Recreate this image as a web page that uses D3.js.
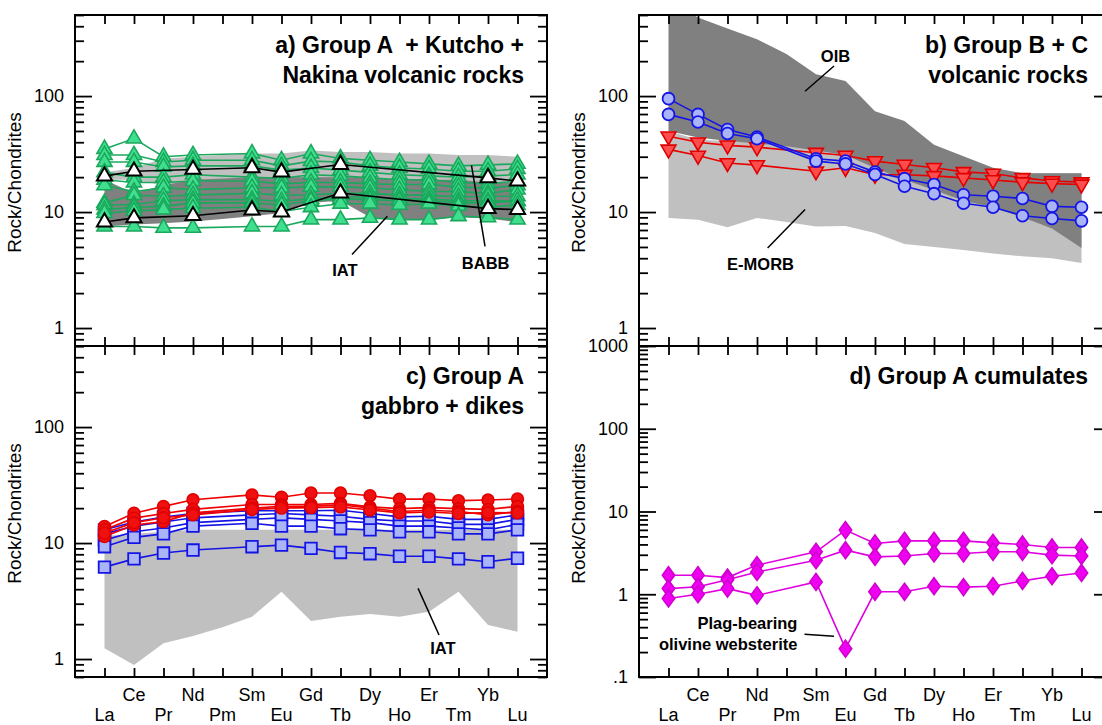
<!DOCTYPE html>
<html>
<head>
<meta charset="utf-8">
<script src="https://cdn.jsdelivr.net/npm/d3@7"></script>
<style>
  body { margin: 0; background: #fff; }
  svg { display: block; font-family: "Liberation Sans", Arial, sans-serif; }
</style>
</head>
<body>
<svg id="chart" width="1102" height="725"></svg>
<script>
// REE in chondrite-normalised order
const REE = ["La", "Ce", "Pr", "Nd", "Pm", "Sm", "Eu", "Gd", "Tb", "Dy", "Ho", "Er", "Tm", "Yb", "Lu"];

const ticksMajor = [1, 10, 100];
const ticksMinor = [0.7, 0.8, 0.9, 2, 3, 4, 5, 6, 7, 8, 9, 20, 30, 40, 50, 60, 70, 80, 90, 200, 300, 400, 500];
const ticksMajorD = [0.1, 1, 10, 100, 1000];
const ticksMinorD = [0.2, 0.3, 0.4, 0.5, 0.6, 0.7, 0.8, 0.9, 2, 3, 4, 5, 6, 7, 8, 9,
  20, 30, 40, 50, 60, 70, 80, 90, 200, 300, 400, 500, 600, 700, 800, 900];

// a) Group A + Kutcho + Nakina volcanic rocks
const aBABBUpper = [22, 24, 29, 30, 31, 32, 32, 34, 33, 33, 32, 32, 31, 31, 30];
const aBABBLower = [19, 19, 17, 15, 14, 13, 12.5, 13, 12, 12, 12, 12, 11, 10, 10];
const aIATUpper = [19, 14.5, 17, 19, 19.5, 20, 20, 20, 20, 20, 19, 19, 19, 18, 18];
const aIATLower = [7.5, 7.8, 8, 8.3, 8.7, 9.2, 9.8, 12, 12.5, 9, 8.6, 8.6, 9, 8.8, 8.2];
const aGreen = [
  [35, 43, 30, 31, null, 32, 28, 32, 29, 28, 27, 26, 25, 25.5, 26],
  [31, 31, 27, 28, null, 28, 25, 27.5, 27, 25, 24, 23.5, 22.5, 22.5, 23.5],
  [27, 27, 24.5, 25, null, 25, 23, 24, 23, 22, 21, 20.5, 20, 20.5, 21],
  [22, 20, 20, 21, null, 20, 19.5, 21, 20.5, 19.7, 19, 19, 18, 17.5, 18.5],
  [19, 18, 18, 18.5, null, 18.5, 17.5, 18, 18, 17.5, 17.3, 17.3, 16.5, 16, 17],
  [17, 15, 16.2, 15.6, null, 16.2, 16.2, 16.5, 16.5, 16.2, 15.5, 15.1, 15, 14.5, 15.6],
  [12, 14, 13.7, 14, null, 14.5, 14, 14.1, 14.5, 14.5, 14, 14, 13.5, 13.7, 13.7],
  [11.5, 11.6, 12.5, 12.8, null, 12.8, 12.4, 13, 13.5, 13.5, 13, 13, 12.5, 12.5, 12.4],
  [10.5, 11, 11.2, 12, null, 12, 11.5, 12.5, 13, 12.8, 12.5, 12.5, 12, 12, 12.5],
  [9.8, 10.2, 10.5, 10.8, null, 11, 10.1, 11, 11.8, 11.8, 11.5, 11.8, 11.3, 11, 11.5],
  [7.5, 7.5, 7.3, 7.3, null, 7.5, 7.5, 8.6, 8.6, 8.9, 8.6, 8.6, 9.2, 9, 8.6]
];
const aOpen = [
  [20.4, 22.5, null, 23.3, null, 24.1, 22.1, null, 25.7, null, null, null, null, 19.7, 18.5],
  [8.2, 8.9, null, 9.3, null, 10.4, 10.0, null, 14.6, null, null, null, null, 10.7, 10.5]
];

// b) Group B + C volcanic rocks
const bEMORBUpper = [50, 42, 41, 40, 38, 36, 33, 28, 25, 24, 23, 22, 21.5, 21.5, 21.5];
const bEMORBLower = [8.9, 8.6, 7.4, 8.9, 8.2, 7.5, 7.6, 6.6, 5.3, 5.0, 4.7, 4.4, 4.15, 4.0, 3.64];
const bOIBUpper = [700, 475, 382, 309, 230, 154, 135, 74, 61, 38, 30.3, 24.1, 21.6, 21.6, 21.6];
const bOIBLower = [50, 44, 41, 39, 37, 34, 31, 24, 19, 15.5, 12.5, 11, 9, 7.2, 4.9];
const bRed = [
  [45, 40, 37.6, 36.3, null, 32.5, 30.7, 27.5, 25.7, 24.1, 22.2, 21.5, 19.7, 18.5, 18.1],
  [34.7, 30.7, 26.5, 25.4, null, 22.5, 24.1, 21, 21, 20.5, 19.7, 18.9, 18.1, 17.6, 17.3]
];
const bBlue = [
  [95, 69.5, 51.5, 44.3, null, 28.8, 27.5, 22.1, 19.4, 17.3, 14.1, 13.7, 13.1, 11.2, 11],
  [69.5, 59.7, 47.6, 42.9, null, 27.5, 26, 21.1, 16.7, 14.4, 11.9, 11, 9.3, 8.8, 8.4]
];

// c) Group A gabbro + dikes
const cIATUpper = [11.5, 12, 12.5, 13, 13, 13, 13, 13, 13, 13, 13, 13, 13, 13, 13];
const cIATLower = [1.24, 0.89, 1.37, 1.58, 1.88, 2.32, 3.81, 2.13, 2.32, 2.45, 2.32, 2.56, 3.81, 1.97, 1.72];
const cBlue = [
  [13, 15.2, 16.8, 18, null, 19, 19, 19, 19.2, 18, 16.8, 17, 16, 16, 17.5],
  [12, 14, 15.2, 16.5, null, 17.5, 18, 17.5, 17, 16, 15.5, 15.5, 14.5, 14.5, 16],
  [10.6, 12.5, 13.5, 15, null, 16, 16.5, 16, 15.5, 15, 14, 14, 13.5, 13, 14.5],
  [9.3, 11.2, 12, 14, null, 14.8, 14, 14, 13.3, 13, 12.5, 12.5, 12, 12, 13],
  [6.2, 7.3, 8.2, 8.7, null, 9.3, 9.6, 9.0, 8.3, 8.1, 7.7, 7.7, 7.3, 6.9, 7.4]
];
const cRed = [
  [13.9, 18.1, 20.7, 23.6, null, 26, 24.8, 27, 27, 25.6, 23.9, 24, 23.2, 23.5, 24],
  [13, 16.4, 18, 19.5, null, 21.5, 21.5, 21.5, 22, 20.5, 19.8, 20.2, 19.8, 19.5, 20.7],
  [11.4, 14.3, 15.3, 18.2, null, 20, 20.7, 20.7, 21.4, 20, 18.7, 19.2, 18.7, 17.5, 18.7],
  [12.2, 15, 16.5, 17.5, null, 19.5, 20, 20.2, 20.5, 19.3, 18.2, 18.5, 18, 18.3, 18.2]
];

// d) Group A cumulates
const dCumulates = [
  [1.7, 1.7, 1.59, 2.25, null, 3.26, 5.96, 4.11, 4.42, 4.42, 4.42, 4.18, 4.0, 3.68, 3.68],
  [1.17, 1.23, 1.5, 1.86, null, 2.58, 3.41, 2.83, 2.9, 3.11, 3.11, 3.26, 3.26, 2.97, 2.9],
  [0.89, 1.0, 1.17, 0.97, null, 1.41, 0.22, 1.07, 1.07, 1.25, 1.22, 1.25, 1.45, 1.65, 1.81]
];

const svg = d3.select("#chart");
const W = 472, H = 331;
const LIGHT = "#c0c0c0", DARK = "#808080";

const triShape = d3.symbol(d3.symbolTriangle, 100)();
const triDownShape = d3.symbol(d3.symbolTriangle, 95)();
const circleShape = d3.symbol(d3.symbolCircle, 110)();
const squareShape = d3.symbol(d3.symbolSquare, 135)();
const diamondShape = "M0,-8.5L6.2,0L0,8.5L-6.2,0Z";

function makePanel(id, left, top, domain) {
  const x = d3.scalePoint().domain(REE).range([left, left + W]).padding(1);
  const y = d3.scaleLog().domain(domain).range([top + H, top]);
  const xi = i => x(REE[0]) + i * x.step();
  svg.append("clipPath").attr("id", "clip-" + id)
    .append("rect").attr("x", left).attr("y", top).attr("width", W).attr("height", H);
  const g = svg.append("g").attr("clip-path", `url(#clip-${id})`);
  return { id, left, top, right: left + W, bottom: top + H, x, y, xi, g };
}

function drawField(p, upper, lower, color) {
  const area = d3.area()
    .x((d, i) => p.x(REE[i]))
    .y0(d => p.y(d[1]))
    .y1(d => p.y(d[0]));
  p.g.append("path").datum(d3.zip(upper, lower)).attr("d", area).attr("fill", color);
}

function drawSeries(p, rows, st) {
  rows.forEach(vals => {
    const pts = REE.map((el, i) => ({ el, v: vals[i] })).filter(d => d.v != null);
    p.g.append("path").datum(pts)
      .attr("d", d3.line().x(d => p.x(d.el)).y(d => p.y(d.v)))
      .attr("fill", "none")
      .attr("stroke", st.line)
      .attr("stroke-width", st.lw || 1.6);
    p.g.selectAll(null).data(pts).join("path")
      .attr("transform", d => `translate(${p.x(d.el)},${p.y(d.v)})` + (st.rotate ? " rotate(180)" : ""))
      .attr("d", st.shape)
      .attr("fill", st.fill)
      .attr("stroke", st.stroke)
      .attr("stroke-width", st.sw || 1.6);
  });
}

function styleAxis(sel) {
  sel.select(".domain").remove();
  sel.selectAll("line").attr("stroke", "#000").attr("stroke-width", 1.8);
  sel.selectAll("text").attr("font-size", 18).attr("fill", "#000")
    .attr("font-family", "'Liberation Sans', Arial, sans-serif");
}

function drawFrame(p, yMajor, yMinor, fmt) {
  const a = svg.append("g");
  a.append("g").attr("transform", `translate(0,${p.bottom})`)
    .call(d3.axisBottom(p.x).tickSize(-9).tickFormat("")).call(styleAxis);
  a.append("g").attr("transform", `translate(0,${p.top})`)
    .call(d3.axisTop(p.x).tickSize(-9).tickFormat("")).call(styleAxis);
  a.append("g").attr("transform", `translate(${p.left},0)`)
    .call(d3.axisLeft(p.y).tickValues(yMajor).tickSize(-17).tickPadding(11).tickFormat(fmt)).call(styleAxis);
  a.append("g").attr("transform", `translate(${p.left},0)`)
    .call(d3.axisLeft(p.y).tickValues(yMinor).tickSize(-9).tickFormat("")).call(styleAxis);
  a.append("g").attr("transform", `translate(${p.right},0)`)
    .call(d3.axisRight(p.y).tickValues(yMajor).tickSize(-17).tickFormat("")).call(styleAxis);
  a.append("g").attr("transform", `translate(${p.right},0)`)
    .call(d3.axisRight(p.y).tickValues(yMinor).tickSize(-9).tickFormat("")).call(styleAxis);
  a.append("rect")
    .attr("x", p.left).attr("y", p.top).attr("width", W).attr("height", H)
    .attr("fill", "none").attr("stroke", "#000").attr("stroke-width", 2);

  svg.append("text")
    .attr("transform", `translate(${p.left - 54},${p.top + H / 2 + 2}) rotate(-90)`)
    .attr("text-anchor", "middle")
    .attr("font-size", 19)
    .text("Rock/Chondrites");
}

function drawTitle(p, lines) {
  lines.forEach((t, i) => {
    svg.append("text")
      .attr("x", p.right - 23)
      .attr("y", p.top + 38 + i * 30)
      .attr("text-anchor", "end")
      .attr("font-size", 23)
      .attr("font-weight", "bold")
      .style("white-space", "pre")
      .text(t);
  });
}

function drawXLabels(p) {
  REE.forEach((el, i) => {
    svg.append("text")
      .attr("x", p.x(el))
      .attr("y", p.bottom + (i % 2 ? 24 : 44))
      .attr("text-anchor", "middle")
      .attr("font-size", 18)
      .text(el);
  });
}

function note(p, i, v, text, anchor) {
  svg.append("text")
    .attr("x", p.xi(i)).attr("y", p.y(v))
    .attr("text-anchor", anchor || "middle")
    .attr("font-size", 16.5)
    .attr("font-weight", "bold")
    .text(text);
}

function leader(p, from, to) {
  svg.append("line")
    .attr("x1", p.xi(from[0])).attr("y1", p.y(from[1]))
    .attr("x2", p.xi(to[0])).attr("y2", p.y(to[1]))
    .attr("stroke", "#000").attr("stroke-width", 1.5);
}

const fmtMain = d => String(d);
const fmtD = d => (d === 0.1 ? ".1" : String(d));

// panel a
const pa = makePanel("a", 75, 15, [0.7, 500]);
drawField(pa, aBABBUpper, aBABBLower, LIGHT);
drawField(pa, aIATUpper, aIATLower, DARK);
drawSeries(pa, aGreen, { line: "#1aa85c", fill: "#3fdf8f", stroke: "#1aa85c", shape: triShape });
drawSeries(pa, aOpen, { line: "#000", fill: "#fff", stroke: "#000", shape: triShape, sw: 2 });
drawFrame(pa, ticksMajor, ticksMinor, fmtMain);
drawTitle(pa, ["a) Group A  + Kutcho +", "Nakina volcanic rocks"]);
leader(pa, [8.39, 4.3], [9.59, 9.2]);
note(pa, 8.15, 2.83, "IAT");
leader(pa, [12.9, 5.07], [12.44, 25.2]);
note(pa, 12.92, 3.25, "BABB");

// panel b
const pb = makePanel("b", 639, 15, [0.7, 500]);
drawField(pb, bEMORBUpper, bEMORBLower, LIGHT);
drawField(pb, bOIBUpper, bOIBLower, DARK);
drawSeries(pb, bRed, { line: "#e80000", fill: "#ff4d4d", stroke: "#e00000", shape: triDownShape, rotate: true });
drawSeries(pb, bBlue, { line: "#1414e6", fill: "#aab4f8", stroke: "#1414e6", shape: circleShape, sw: 1.8 });
drawFrame(pb, ticksMajor, ticksMinor, fmtMain);
drawTitle(pb, ["b) Group B + C", "volcanic rocks"]);
leader(pb, [4.63, 110], [5.61, 181.6]);
note(pb, 5.66, 197, "OIB");
leader(pb, [3.36, 4.9], [4.63, 10.5]);
note(pb, 3.12, 3.14, "E-MORB");

// panel c
const pc = makePanel("c", 75, 346, [0.7, 500]);
drawField(pc, cIATUpper, cIATLower, LIGHT);
drawSeries(pc, cBlue, { line: "#1414e6", fill: "#aab4f8", stroke: "#1414e6", shape: squareShape, sw: 1.8 });
drawSeries(pc, cRed, { line: "#f00000", fill: "#f01010", stroke: "#e00000", shape: circleShape });
drawFrame(pc, ticksMajor, ticksMinor, fmtMain);
drawTitle(pc, ["c) Group A", "gabbro + dikes"]);
drawXLabels(pc);
leader(pc, [11.34, 1.61], [10.63, 4.07]);
note(pc, 11.47, 1.1, "IAT");

// panel d
const pd = makePanel("d", 639, 346, [0.1, 1000]);
drawSeries(pd, dCumulates, { line: "#e000e0", fill: "#f000f0", stroke: "#d000d0", shape: diamondShape });
drawFrame(pd, ticksMajorD, ticksMinorD, fmtD);
drawTitle(pd, ["d) Group A cumulates"]);
drawXLabels(pd);
note(pd, 4.37, 0.378, "Plag-bearing", "end");
note(pd, 4.37, 0.21, "olivine websterite", "end");
leader(pd, [4.61, 0.328], [5.61, 0.311]);
</script>
</body>
</html>
